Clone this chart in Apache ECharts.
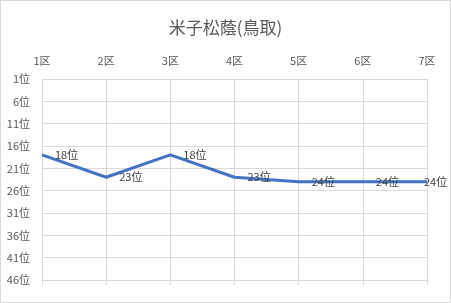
<!DOCTYPE html>
<html>
<head>
<meta charset="utf-8">
<script src="https://cdn.jsdelivr.net/npm/echarts@6/dist/echarts.min.js"></script>
<style>
html,body{margin:0;padding:0;background:#fff;}
#c{width:451px;height:303px;box-sizing:border-box;border:1px solid #d9d9d9;}
</style>
</head>
<body>
<div id="c"></div>
<script>
const titleText = "米子松蔭(鳥取)";
const categories = ["1区","2区","3区","4区","5区","6区","7区"];
const ranks = [18, 23, 18, 23, 24, 24, 24];
const rankMin = 1, rankMax = 46, rankStep = 5;

const font = "'Noto Sans CJK JP', 'Noto Sans', sans-serif";
const chart = echarts.init(document.getElementById('c'), null, {renderer:'canvas'});
const seriesData = ranks.map((v, i) => {
  const item = {value: v};
  if (i === ranks.length - 1) item.label = {show: true, position: 'right', distance: -4};
  return item;
});
chart.setOption({
  animation: false,
  title: {
    text: titleText, left: 'center', top: 13,
    textStyle: {fontFamily: font, fontSize: 17, fontWeight: 'normal', color: '#595959'}
  },
  grid: {left: 41, right: 23, top: 78, bottom: 22},
  xAxis: [{
    type: 'category', data: categories, position: 'top', boundaryGap: false,
    axisLine: {show: false}, axisTick: {show: false},
    axisLabel: {fontFamily: font, fontSize: 11, color: '#595959', margin: 13},
    splitLine: {show: true, lineStyle: {color: '#d9d9d9', width: 1}}
  }, {
    type: 'category', data: categories, position: 'bottom', boundaryGap: false,
    axisLine: {show: false},
    axisTick: {show: true, length: 5, lineStyle: {color: '#d9d9d9'}},
    axisLabel: {show: false}
  }],
  yAxis: {
    type: 'value', inverse: true, min: rankMin, max: rankMax, interval: rankStep,
    axisLine: {show: false}, axisTick: {show: false},
    axisLabel: {fontFamily: font, fontSize: 11, color: '#595959', margin: 12, formatter: v => v + '位'},
    splitLine: {lineStyle: {color: '#d9d9d9', width: 1}}
  },
  series: [{
    type: 'line', data: seriesData, xAxisIndex: 0,
    showSymbol: true, symbol: 'circle', symbolSize: 2,
    itemStyle: {color: 'rgba(0,0,0,0)', borderWidth: 0},
    lineStyle: {color: '#4472C4', width: 3},
    label: {
      show: true, position: 'right', distance: 12,
      fontFamily: font, fontSize: 11, color: '#404040',
      formatter: p => p.value + '位'
    },
    z: 3
  }]
});
</script>
</body>
</html>
